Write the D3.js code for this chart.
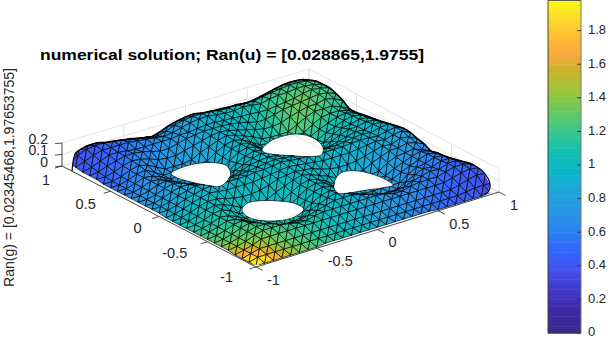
<!DOCTYPE html>
<html>
<head>
<meta charset="utf-8">
<style>
  html, body { margin: 0; padding: 0; background: #fff; }
  svg { display: block; }
  text { font-family: "Liberation Sans", sans-serif; fill: #262626; }
</style>
<script src="https://d3js.org/d3.v7.min.js"></script>
</head>
<body>
<div id="chart"></div>
<script>
// --- Data ---

const titleText = "numerical solution; Ran(u) = [0.028865,1.9755]";
const yLabelText = "Ran(g) = [0.02345468,1.97653755]";

const planeTicks = [-1, -0.5, 0, 0.5, 1];
const planeTickLabels = ["-1", "-0.5", "0", "0.5", "1"];
const heightTicks = [0, 0.1, 0.2];
const barTicks = [0, 0.2, 0.4, 0.6, 0.8, 1, 1.2, 1.4, 1.6, 1.8];

// colour bar, value -> colour
const colorStops = [0.01, 0.13, 0.25, 0.37, 0.48, 0.6, 0.73, 0.85, 0.97, 1.08, 1.2, 1.31, 1.43, 1.55, 1.65, 1.75, 1.87, 1.98];
const colorValues = ["#3a2a90", "#3e2aa8", "#4238c8", "#4352ee", "#3366ff", "#2c84f0", "#2797e4", "#1da6d6", "#08b9c4", "#14c0ae", "#3cc88a", "#68c860", "#9bc63c", "#c9b428", "#f9a840", "#fdbc30", "#fedc2a", "#f9fb15"];

// mesh height in hundredths, row = y from -1 to 1, column = x from -1 to 1
const heightRows = [
  [1,1,1,1,1,1,1,1,2,2,2,2,2,2,2,2,2,2,2,2,2,1,1,1,1,1,1,2,3],
  [1,3,3,3,3,3,3,3,3,3,3,3,3,3,3,3,3,3,3,3,3,3,3,3,3,4,5,5,5],
  [1,3,5,5,5,5,5,5,5,5,5,5,5,5,5,5,5,5,5,5,5,5,5,5,5,7,9,11,10],
  [1,3,5,8,8,8,8,8,8,8,8,8,8,8,8,8,8,8,8,8,8,8,8,8,8,10,12,13,11.5],
  [2,3,5,8,10,10,10,9,7,7,9,10,10,10,10,10,10,10,9,7,7,9,10,10,10,12,14,14,12],
  [2,3,5,8,10,10,8,5,4,4,6,8,10,12,12,12,10,8,6,4,4,5,8,10,12,11,14,14,10.5],
  [2,3,5,8,10,8,4,0,0,0,1,5,8,11,13,11,8,5,1,0,0,0,4,8,11,10,13,13,9],
  [2,3,5,8,9,5,0,0,0,0,0,1,6,10,12,10,6,1,0,0,0,0,0,5,9,10,13,12,7.5],
  [2,3,5,8,7,4,0,0,0,0,0,0,5,10,12,10,5,0,0,0,0,0,0,4,7,10,13,11,6.5],
  [2,3,5,8,7,4,0,0,0,0,0,0,5,10,12,10,5,0,0,0,0,0,0,4,7,10,12,10,6],
  [2,3,5,8,9,6,1,0,0,0,0,1,6,10,12,10,6,1,0,0,0,0,1,6,9,10,11,8,4.5],
  [2,3,5,8,10,8,5,1,0,0,1,5,8,11,13,11,8,5,1,0,0,1,5,8,11,11,13,11,7.5],
  [2,3,5,8,10,10,8,6,5,5,6,8,11,12,13,12,11,8,6,5,5,6,8,10,12,11,14,13,9],
  [2,3,5,8,10,12,11,10,10,10,10,11,12,13,14,13,12,11,10,10,10,10,11,12,13,12,14,15,11],
  [3,3,5,8,10,12,13,12,12,12,12,13,13,14,15,14,13,13,12,12,12,12,13,13,13,12,14,15,11.7],
  [3,3,5,8,10,12,11,10,10,10,10,11,12,13,14,13,12,11,10,10,10,10,11,12,13,12,14,15,10.8],
  [3,3,5,8,10,10,8,6,5,5,6,8,11,12,13,12,11,8,6,5,5,6,8,10,12,11,14,13,9.5],
  [3,3,5,8,10,8,5,1,0,0,1,5,8,11,13,11,8,5,1,0,0,1,5,8,11,11,13,12,8],
  [3,3,5,8,9,6,1,0,0,0,0,1,6,10,12,10,6,1,0,0,0,0,1,6,9,10,12,11,7],
  [3,3,5,8,7,4,0,0,0,0,0,0,5,10,12,10,5,0,0,0,0,0,0,4,7,10,12,10,6],
  [3,3,5,8,7,4,0,0,0,0,0,0,5,10,12,10,5,0,0,0,0,0,0,4,7,10,11,9,5],
  [3,3,5,8,9,5,0,0,0,0,0,1,6,10,12,10,6,1,0,0,0,0,0,5,9,10,10,8,4],
  [3,3,5,8,10,8,4,0,0,0,1,5,8,11,13,11,8,5,1,0,0,0,4,8,11,11,11,8,4],
  [4,4,6,9,11,10,8,5,4,4,6,8,10,12,13,12,10,8,6,4,4,5,8,10,12,12,14,12,8],
  [4,5,8,10,12,12,11,9,7,7,9,11,12,13,13,13,12,11,9,7,7,9,11,12,13,14,15,14,11],
  [4,6,9,12,12,11,10,10,10,10,10,11,11,12,13,13,12,12,11,11,10,10,11,12,13,15,16,15,13],
  [5,8,11,13,13,13,13,12,11,10,9,10,12,14,15,15,14,13,13,14,13,12,14,15,15,16,16,15,13],
  [6,10,13,14,14,13,12,11,9,8,6,8,11,13,14,14,14,12,12,13,12,11,13,14,15,16,16,15,12.7],
  [8,10,10,11,11,9,8,6.5,5,3.5,2,4,7,9,10.5,11,9.4,8.7,8.3,7.8,7.2,7,8,9.5,11.5,13,13.5,13,10.5]
];

// mesh colour value in hundredths, same layout
const valueRows = [
  [197,195,185,165,150,139,131,125,119,113,108,102,97,91,85,80,76,71,66,61,57,52,48,46,43,40,37,34,31],
  [195,188,172,155,143,134,127,122,117,111,107,102,97,92,87,82,78,73,69,64,60,55,51,48,45,42,40,37,34],
  [185,172,157,145,136,129,124,119,115,110,106,102,98,93,88,84,80,75,71,67,63,58,54,50,48,45,42,40,37],
  [165,155,145,137,131,125,121,116,113,109,106,102,98,94,90,85,81,78,74,70,66,62,58,54,50,48,45,42,40],
  [150,143,136,131,125,122,118,114,111,108,105,101,98,94,91,87,83,80,76,72,69,65,61,58,54,50,48,45,43],
  [139,134,129,125,122,119,115,112,110,107,104,101,98,95,92,88,85,82,79,75,72,68,65,62,58,54,50,48,45],
  [131,127,124,121,118,115,112,110,107,106,103,101,98,96,93,90,87,84,81,78,75,72,69,65,61,58,54,50,48],
  [125,122,119,116,114,112,110,108,106,104,103,101,100,98,94,91,88,86,83,80,78,75,72,68,65,62,58,55,52],
  [119,117,115,113,111,110,107,106,105,103,102,101,100,98,95,92,90,88,85,83,81,78,75,72,69,66,63,60,57],
  [113,111,110,109,108,107,106,104,103,102,101,100,99,98,95,93,91,90,87,85,83,80,78,75,72,70,67,64,61],
  [108,107,106,106,105,104,103,103,102,101,100,99,99,98,96,94,93,91,90,87,85,83,81,79,76,74,71,69,66],
  [102,102,102,102,101,101,101,101,101,100,99,99,98,98,96,95,94,93,91,90,88,86,84,82,80,78,75,73,71],
  [97,97,97,98,98,98,98,100,99,99,99,98,98,97,97,96,95,94,93,91,90,88,87,85,83,81,80,78,75],
  [91,92,93,94,94,95,96,98,98,98,98,98,97,97,97,96,96,95,94,93,92,91,90,88,87,85,84,82,80],
  [85,87,88,90,91,92,93,94,95,95,96,96,97,97,97,97,97,96,96,95,95,94,93,92,91,90,88,87,85],
  [80,82,84,85,87,88,90,91,92,93,94,95,96,96,97,97,98,98,98,98,98,98,96,95,95,94,93,92,91],
  [75,78,80,81,83,85,87,88,90,91,93,94,95,96,97,98,99,100,100,100,100,100,97,97,96,95,95,94,93],
  [71,73,75,78,80,82,84,86,88,90,91,93,94,95,96,98,100,102,102,103,103,103,101,99,98,98,97,98,97],
  [66,69,71,74,76,79,81,83,85,87,90,91,93,94,96,98,100,102,105,106,106,106,105,103,102,100,99,100,100],
  [61,64,67,70,72,75,78,80,83,85,87,90,91,93,95,98,100,103,106,110,110,110,110,108,107,104,102,102,102],
  [57,60,63,66,69,72,75,78,81,83,85,88,90,92,95,98,100,103,106,110,114,115,114,114,112,110,107,104,105],
  [52,55,58,62,65,68,72,75,78,80,83,86,88,91,94,98,100,103,106,110,115,120,121,120,118,116,113,109,106],
  [48,50,54,58,61,65,69,72,75,78,81,84,87,90,93,96,97,101,105,110,114,121,127,126,124,121,118,114,110],
  [45,48,50,54,58,62,65,68,72,75,79,82,85,88,92,95,96,99,103,108,114,120,126,132,129,126,121,117,113],
  [43,45,48,50,54,58,61,65,69,72,76,80,83,87,91,94,96,98,102,107,112,118,124,129,133,128,123,118,115],
  [40,42,45,48,50,54,58,62,66,70,74,78,81,85,90,93,95,98,100,105,110,116,121,126,128,129,123,118,116],
  [37,40,42,45,48,50,54,58,63,67,71,75,80,84,88,92,94,97,100,102,107,113,118,121,123,123,122,118,116],
  [34,37,40,42,45,48,50,55,60,64,69,73,78,82,87,90,92,94,99,102,103,109,114,117,118,118,118,118,116],
  [31,34,37,40,43,45,48,52,57,61,66,71,75,80,85,89,92,95,97,100,105,106,110,113,115,116,116,116,115]
];

// hole outlines on the floor plane, [x, y]
const holeBack = [[0.19,0.446],[0.302,0.518],[0.428,0.539],[0.521,0.518],[0.567,0.437],[0.561,0.327],[0.517,0.225],[0.447,0.155],[0.365,0.182],[0.271,0.271],[0.198,0.353],[0.175,0.41]];
const holeLeft = [[-0.513,0.494],[-0.405,0.527],[-0.273,0.519],[-0.181,0.463],[-0.15,0.38],[-0.205,0.267],[-0.312,0.177],[-0.391,0.147],[-0.441,0.205],[-0.494,0.311],[-0.523,0.413]];
const holeRight = [[0.23,-0.257],[0.308,-0.182],[0.394,-0.143],[0.479,-0.192],[0.524,-0.306],[0.534,-0.434],[0.519,-0.504],[0.431,-0.494],[0.321,-0.459],[0.207,-0.43],[0.155,-0.392],[0.18,-0.32]];
const holeFront = [[-0.499,-0.224],[-0.409,-0.169],[-0.317,-0.191],[-0.233,-0.258],[-0.175,-0.342],[-0.179,-0.46],[-0.27,-0.514],[-0.388,-0.523],[-0.484,-0.471],[-0.537,-0.399],[-0.537,-0.296]];

// rounded-off corners of the plate, on the floor plane
const cutLeft = [[-0.998,0.899],[-0.883,1.032],[-0.804,1.111],[-0.738,1.142],[-0.663,1.165],[-0.464,1.413],[-0.655,1.555],[-1.151,0.934],[-1.009,0.947]];
const cutRight = [[1.138,-0.528],[1.115,-0.69],[1.022,-0.879],[0.943,-0.958],[0.902,-0.967],[1.051,-0.998],[1.474,-0.52],[1.366,-0.242]];
const cutFront = [[-1.017,-0.94],[-0.94,-1.0],[-1.023,-1.141],[-1.136,-1.057]];

// --- Configuration Variables ---

const w = 610;
const h = 340;

// where the floor corners land on screen
const cornerFront = [256, 267];
const cornerRight = [499, 192];
const cornerLeft = [62, 166];
const cornerBack = [309, 92];

const xRatio = d3.scaleLinear().domain([-1, 1]).range([0, 1]);
const yRatio = d3.scaleLinear().domain([-1, 1]).range([0, 1]);
const heightScale = d3.scaleLinear().domain([0, 0.2]).range([0, 23]);
const barScale = d3.scaleLinear().domain([0, 1.98]).range([333, 0.4]);
const colorScale = d3.scaleLinear().domain(colorStops).range(colorValues).clamp(true);

function project(x, y, z) {
    var u = xRatio(x), v = yRatio(y);
    var near = d3.interpolateNumberArray(cornerFront, cornerRight)(u);
    var far = d3.interpolateNumberArray(cornerLeft, cornerBack)(u);
    var p = d3.interpolateNumberArray(near, far)(v);
    return [p[0], p[1] - heightScale(z || 0)];
}

var svg1 = d3.select("#chart")
    .append("svg")
    .attr("width", w)
    .attr("height", h);

// --- Grid behind the surface ---

var gridLines = [];
planeTicks.forEach(function (t) {
    gridLines.push([[t, -1, 0], [t, 1, 0]]);
    gridLines.push([[-1, t, 0], [1, t, 0]]);
    gridLines.push([[t, 1, 0], [t, 1, 0.2]]);
    gridLines.push([[1, t, 0], [1, t, 0.2]]);
});
heightTicks.forEach(function (t) {
    gridLines.push([[-1, 1, t], [1, 1, t]]);
    gridLines.push([[1, -1, t], [1, 1, t]]);
});

var segment = d3.line();

svg1.append("g")
    .selectAll("path")
    .data(gridLines)
    .enter()
    .append("path")
    .attr("d", function (d) {
        return segment(d.map(function (p) { return project(p[0], p[1], p[2]); }));
    })
    .attr("fill", "none")
    .attr("stroke", "#e3e3e3")
    .attr("stroke-width", 1);

// --- Triangle mesh ---

const nCols = heightRows[0].length;
const nRows = heightRows.length;
const xScale = d3.scaleLinear().domain([0, nCols - 1]).range([-1, 1]);
const yScale = d3.scaleLinear().domain([0, nRows - 1]).range([-1, 1]);

function vertex(i, j) {
    return { x: xScale(i), y: yScale(j), z: heightRows[j][i] / 100, u: valueRows[j][i] / 100 };
}

// split each cell along the short diagonal on screen, so triangles stay compact
var triangles = [];
for (var j = 0; j < nRows - 1; j++) {
    for (var i = 0; i < nCols - 1; i++) {
        var a = vertex(i, j), b = vertex(i + 1, j), c = vertex(i, j + 1), e = vertex(i + 1, j + 1);
        triangles.push([a, b, e], [a, e, c]);
    }
}

// back to front
triangles.sort(function (p, q) {
    return d3.sum(p, function (v) { return project(v.x, v.y)[1]; }) -
        d3.sum(q, function (v) { return project(v.x, v.y)[1]; });
});

const floorPoint = function (p) { return project(p[0], p[1], 0); };
const roundPath = d3.line().curve(d3.curveCatmullRomClosed);
const holes = [holeBack, holeLeft, holeRight, holeFront];
const cuts = [cutLeft, cutRight, cutFront];

var clipPathData = "M-10,-10H620V350H-10Z";
holes.forEach(function (hole) {
    clipPathData += roundPath(hole.map(floorPoint));
});
cuts.forEach(function (cut) {
    clipPathData += d3.line()(cut.map(floorPoint)) + "Z";
});

svg1.append("clipPath")
    .attr("id", "plate")
    .append("path")
    .attr("d", clipPathData)
    .attr("clip-rule", "evenodd");

var mesh = svg1.append("g").attr("clip-path", "url(#plate)");

mesh.selectAll("path")
    .data(triangles)
    .enter()
    .append("path")
    .attr("d", function (d) {
        return d3.line()(d.map(function (v) { return project(v.x, v.y, v.z); })) + "Z";
    })
    .attr("fill", function (d) {
        return colorScale(d3.mean(d, function (v) { return v.u; }));
    })
    .attr("stroke", "#000")
    .attr("stroke-width", 0.7)
    .attr("stroke-linejoin", "round");

// thick rim along the back edges
var smoothLine = d3.line().curve(d3.curveCatmullRom);
var backLeft = d3.range(nCols).map(function (i) { return vertex(i, nRows - 1); });
var backRight = d3.range(nRows).map(function (j) { return vertex(nCols - 1, j); });

mesh.selectAll("path.rim")
    .data([backLeft, backRight])
    .enter()
    .append("path")
    .attr("class", "rim")
    .attr("d", function (d) {
        return smoothLine(d.map(function (v) { return project(v.x, v.y, v.z); }));
    })
    .attr("fill", "none")
    .attr("stroke", "#000")
    .attr("stroke-width", 1.6);

// hole edges and the rounded corners
svg1.append("g")
    .selectAll("path")
    .data(holes)
    .enter()
    .append("path")
    .attr("d", function (d) { return roundPath(d.map(floorPoint)); })
    .attr("fill", "none")
    .attr("stroke", "#111")
    .attr("stroke-width", 0.7);

svg1.append("g")
    .selectAll("path")
    .data([cutLeft.slice(0, 5), cutRight.slice(0, 5)])
    .enter()
    .append("path")
    .attr("d", function (d) { return smoothLine(d.map(floorPoint)); })
    .attr("fill", "none")
    .attr("stroke", "#000")
    .attr("stroke-width", 1.2);

// --- Axes ---

var axisLines = [
    [[-1, 1, 0], [-1, -1, 0]],
    [[-1, -1, 0], [1, -1, 0]]
];
planeTicks.forEach(function (t) {
    axisLines.push([[-1, t, 0], [-1.055, t, 0]]);
    axisLines.push([[t, -1, 0], [t, -1.07, 0]]);
});

var axes = svg1.append("g");

axes.selectAll("path.axis")
    .data(axisLines)
    .enter()
    .append("path")
    .attr("class", "axis")
    .attr("d", function (d) {
        return segment(d.map(function (p) { return project(p[0], p[1], p[2]); }));
    })
    .attr("fill", "none")
    .attr("stroke", "#3a3a3a")
    .attr("stroke-width", 0.9);

// height axis on the left corner
const leftFoot = project(-1, 1, 0);
axes.append("path")
    .attr("d", segment([project(-1, 1, 0), project(-1, 1, 0.2)]))
    .attr("stroke", "#3a3a3a")
    .attr("stroke-width", 0.9);

axes.selectAll("path.ztick")
    .data(heightTicks)
    .enter()
    .append("path")
    .attr("class", "ztick")
    .attr("d", function (d) {
        var p = project(-1, 1, d);
        return segment([p, [p[0] - 7, p[1] + 0.7]]);
    })
    .attr("stroke", "#3a3a3a")
    .attr("stroke-width", 0.9);

axes.selectAll("text.zlabel")
    .data(heightTicks)
    .enter()
    .append("text")
    .attr("class", "zlabel")
    .text(function (d) { return d; })
    .attr("x", leftFoot[0] - 14)
    .attr("y", function (d) { return project(-1, 1, d)[1] - 3; })
    .attr("text-anchor", "end")
    .attr("dominant-baseline", "middle")
    .attr("font-size", 14);

axes.selectAll("text.ylabel")
    .data(planeTicks)
    .enter()
    .append("text")
    .attr("class", "ylabel")
    .text(function (d, i) { return planeTickLabels[i]; })
    .attr("x", function (d) { return project(-1, d, 0)[0] - 17.5 + 5.5 * d; })
    .attr("y", function (d) { return project(-1, d, 0)[1] + 13 + 2 * d; })
    .attr("text-anchor", "end")
    .attr("dominant-baseline", "middle")
    .attr("font-size", 14.5);

axes.selectAll("text.xlabel")
    .data(planeTicks)
    .enter()
    .append("text")
    .attr("class", "xlabel")
    .text(function (d, i) { return planeTickLabels[i]; })
    .attr("x", function (d) { return project(d, -1, 0)[0] + 11; })
    .attr("y", function (d) { return project(d, -1, 0)[1] + 14; })
    .attr("dominant-baseline", "middle")
    .attr("font-size", 14.5);

// --- Title and y label ---

svg1.append("text")
    .text(titleText)
    .attr("x", 40)
    .attr("y", 60)
    .attr("font-size", 14)
    .attr("font-weight", "bold")
    .style("fill", "#000")
    .attr("textLength", 384)
    .attr("lengthAdjust", "spacingAndGlyphs");

svg1.append("text")
    .text(yLabelText)
    .attr("transform", "translate(14,287) rotate(-90)")
    .attr("font-size", 14)
    .attr("textLength", 219)
    .attr("lengthAdjust", "spacingAndGlyphs");

// --- Colour bar ---

const barLeft = 548;
const barRight = 581;
const barStep = 0.02;

var bar = svg1.append("g");

bar.selectAll("rect")
    .data(d3.range(0, 1.98, barStep))
    .enter()
    .append("rect")
    .attr("x", barLeft)
    .attr("y", function (d) { return barScale(d + barStep); })
    .attr("width", barRight - barLeft)
    .attr("height", function (d) { return barScale(d) - barScale(d + barStep) + 0.5; })
    .attr("fill", function (d) { return colorScale(d); });

bar.append("path")
    .attr("d", segment([[barRight, 0.4], [barLeft, 0.4], [barLeft, 333], [barRight, 333]]))
    .attr("fill", "none")
    .attr("stroke", "#333")
    .attr("stroke-width", 0.9);

bar.append("path")
    .attr("d", segment([[barRight, 0.4], [barRight, 333]]))
    .attr("stroke", "#777")
    .attr("stroke-width", 1);

bar.selectAll("path.tick")
    .data(barTicks)
    .enter()
    .append("path")
    .attr("class", "tick")
    .attr("d", function (d) { return segment([[barRight - 4, barScale(d)], [barRight, barScale(d)]]); })
    .attr("stroke", "#333")
    .attr("stroke-width", 0.9);

bar.selectAll("text")
    .data(barTicks)
    .enter()
    .append("text")
    .text(function (d) { return d; })
    .attr("x", 588)
    .attr("y", function (d) { return barScale(d); })
    .attr("dominant-baseline", "middle")
    .attr("font-size", 13);
</script>
</body>
</html>
